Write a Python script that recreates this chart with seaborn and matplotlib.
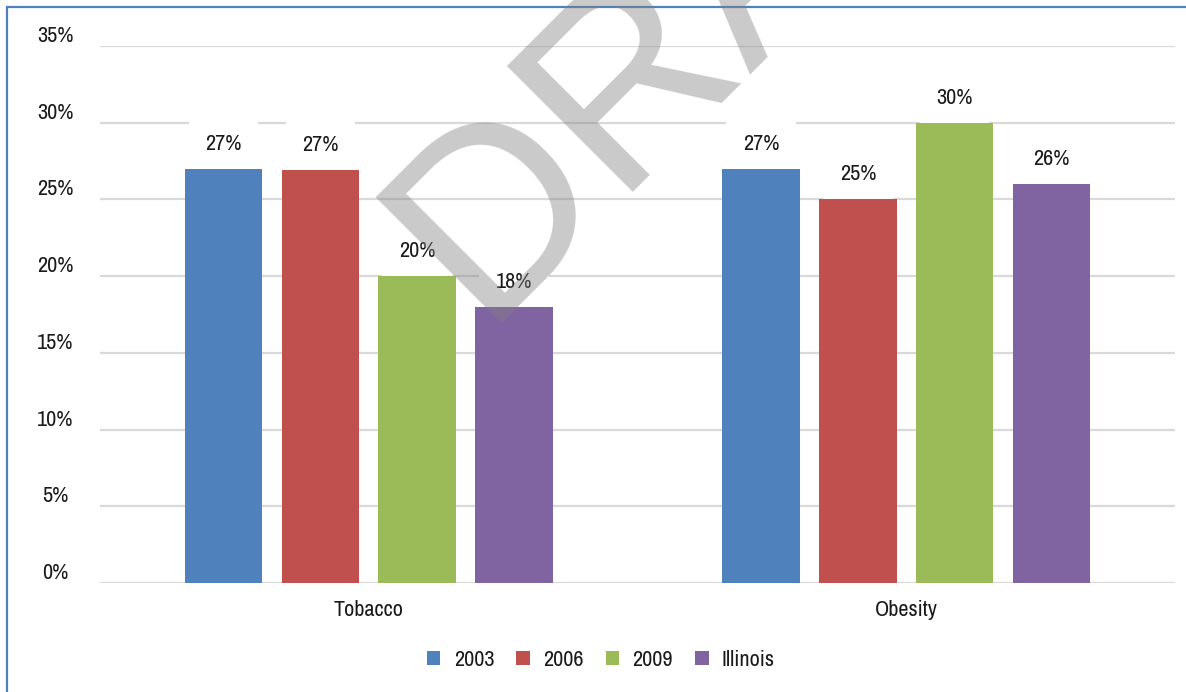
import matplotlib
matplotlib.use('Agg')
import matplotlib.pyplot as plt
import seaborn as sns
import pandas as pd
from matplotlib.patches import Rectangle

categories = ['Tobacco', 'Obesity']
series = ['2003', '2006', '2009', 'Illinois']
tobacco = [27.0, 26.9, 20.0, 18.0]
obesity = [27.0, 25.0, 30.0, 26.0]
colors = ['#4f81bd', '#c0504d', '#9bbb59', '#8064a2']
yticks = [0, 5, 10, 15, 20, 25, 30, 35]
ytick_labels = [f'{t}%' for t in yticks]

rows = []
for cat, vals in zip(categories, [tobacco, obesity]):
    for s, v in zip(series, vals):
        rows.append(dict(category=cat, series=s, value=v))
df = pd.DataFrame(rows)

sns.set_theme(style='white')
plt.rcParams['font.family'] = ['Archivo Narrow', 'DejaVu Sans']
plt.rcParams['font.weight'] = 500
text_color = '#1a1a1a'
fs = 16

W, H = 1186, 692
fig = plt.figure(figsize=(W / 100, H / 100), dpi=100)
ax = fig.add_axes([100 / W, 1 - 583 / H, 1075 / W, (583 - 46) / H])

sns.barplot(data=df, x='category', y='value', hue='series', order=categories,
            hue_order=series, palette=colors, width=0.72, gap=0.2, ax=ax,
            saturation=1, errorbar=None, linewidth=0)
for p in ax.patches:
    p.set_zorder(2)

ax.set_ylim(0, 35)
ax.set_yticks(yticks)
ax.set_yticklabels(ytick_labels)
ax.yaxis.grid(True, color='#d9d9d9', lw=1.6)
ax.set_axisbelow(True)
for sp in ax.spines.values():
    sp.set_visible(False)
ax.set_xlabel('')
ax.set_ylabel('')
ax.tick_params(axis='x', length=0, pad=12, labelsize=fs, labelcolor=text_color)
ax.tick_params(axis='y', length=0, pad=32, labelsize=fs, labelcolor=text_color)
for lab in ax.get_yticklabels():
    lab.set_ha('center')
    lab.set_va('bottom')

for cont, s in zip(ax.containers, series):
    for bar in cont:
        v = bar.get_height()
        ax.annotate(f'{v:.0f}%', (bar.get_x() + bar.get_width() / 2, v),
                    xytext=(0, 18), textcoords='offset points', ha='center',
                    va='center', fontsize=fs, color=text_color, zorder=1.5,
                    bbox=dict(boxstyle='square,pad=0.75', fc='white', ec='none'))

handles, labels = ax.get_legend_handles_labels()
if ax.get_legend() is not None:
    ax.get_legend().remove()
fig.legend(handles, labels, loc='center', bbox_to_anchor=(601 / W, 1 - 660 / H),
           ncol=4, frameon=False, handlelength=0.6, handleheight=0.6,
           handletextpad=0.6, columnspacing=1.0, fontsize=fs,
           labelcolor=text_color)

# border
fig.patches.append(Rectangle((7 / W, -0.1), 1.2, (692 - 7) / H + 0.1,
                             transform=fig.transFigure, fill=False,
                             edgecolor='#4f81bd', lw=1.6))

# watermark
fig.text(481 / W, 1 - 323 / H, 'DRAFT', rotation=45, rotation_mode='anchor',
         ha='left', va='baseline', fontsize=186, family='Liberation Sans',
         fontweight='normal', color='#808080', alpha=0.42, zorder=10)

fig.savefig('out.png', dpi=100)
